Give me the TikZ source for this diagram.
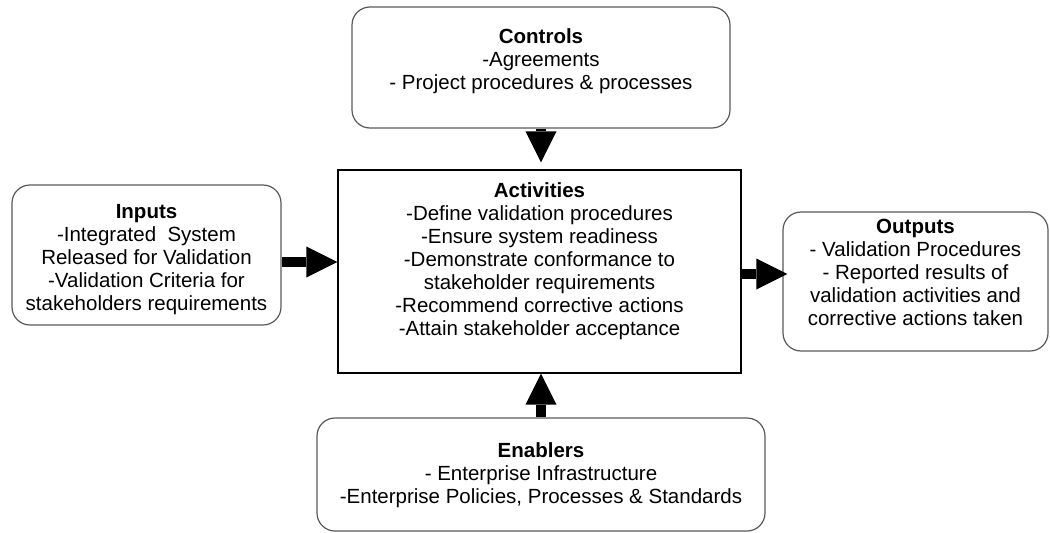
\documentclass[tikz,border=0pt]{standalone}
\usepackage{fontspec}
\setmainfont{Liberation Sans}
\usetikzlibrary{arrows.meta}
\newcommand{\boxlines}[2]{\raisebox{#1}[0pt][0pt]{\begin{tabular}{@{}c@{}}#2\end{tabular}}}

\begin{document}
\begin{tikzpicture}[x=1pt,y=-1pt,font=\fontsize{20.5}{23}\selectfont,
    roundbox/.style={draw=black!65, line width=1.2pt, rounded corners=18pt, inner sep=0pt},
    actbox/.style={draw=black, line width=1.3pt, inner sep=0pt},
    fat/.style={line width=10pt, -{Triangle[length=31pt,width=31pt,line width=0pt]}}]
          \useasboundingbox (0,0) rectangle (1050,533);
          \node[roundbox, minimum width=378pt, minimum height=121pt] (ctrl) at (541,67.5){\boxlines{0pt}{\textbf{Controls}\\-Agreements\\- Project procedures \& processes}};
          \node[actbox, minimum width=403pt, minimum height=203pt] (act) at (539.5,271.5){\boxlines{4.4pt}{\textbf{Activities}\\-Define validation procedures\\-Ensure system readiness\\-Demonstrate conformance to\\stakeholder requirements\\-Recommend corrective actions\\-Attain stakeholder acceptance}};
          \node[roundbox, minimum width=269pt, minimum height=140pt] (inputs) at (146.5,255){\boxlines{-10pt}{\textbf{Inputs}\\-Integrated\ \ System\\Released for Validation\\-Validation Criteria for\\stakeholders requirements}};
          \node[roundbox, minimum width=265pt, minimum height=139pt] (out) at (915.5,281.5){\boxlines{1.4pt}{\textbf{Outputs}\\- Validation Procedures\\- Reported results of\\validation activities and\\corrective actions taken}};
          \node[roundbox, minimum width=448pt, minimum height=113pt] (enab) at (541,474.5){\boxlines{-6.6pt}{\textbf{Enablers}\\- Enterprise Infrastructure\\-Enterprise Policies, Processes \& Standards}};
          \draw[fat] ([yshift=-7pt]inputs.east) -- ([yshift=-7pt]inputs.east -| act.west);
          \draw[fat, shorten >=-5pt] ([yshift=-2.5pt]act.east) -- ([yshift=-2.5pt]act.east -| out.west);
          \draw[fat, shorten >=7pt] (ctrl.south) -- (ctrl.south |- act.north);
          \draw[fat] (enab.north) -- (enab.north |- act.south);
        \end{tikzpicture}
\end{document}
